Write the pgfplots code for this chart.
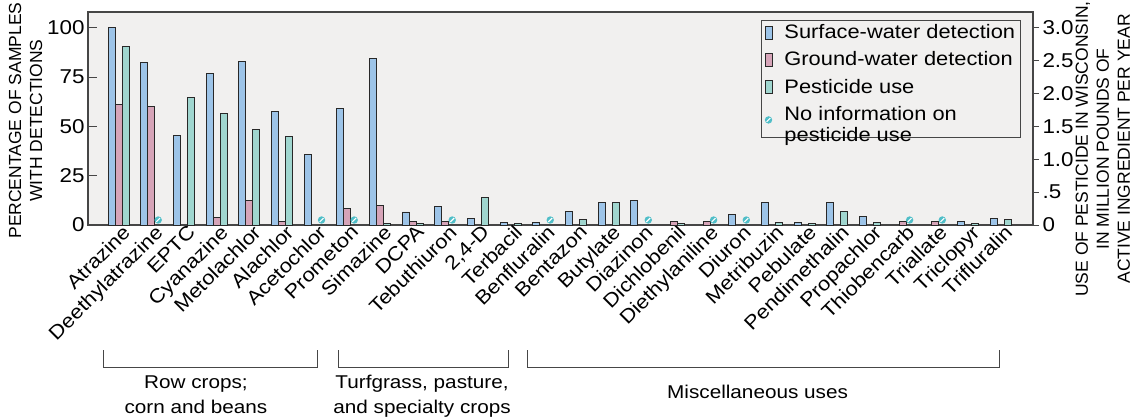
\documentclass[border=0pt]{standalone}
\usepackage{fontspec}
\setmainfont{Liberation Sans}[FakeStretch=1.12]
\newfontfamily\rotfont{Liberation Sans}
\usepackage{pgfplots}
\pgfplotsset{compat=1.18}
\definecolor{blueb}{RGB}{157,196,232}
\definecolor{pinkb}{RGB}{214,164,184}
\definecolor{greenb}{RGB}{160,214,207}
\definecolor{noinfoc}{RGB}{80,190,200}
\definecolor{bgc}{RGB}{241,240,239}
\definecolor{framec}{RGB}{70,70,70}
\definecolor{barc}{RGB}{40,40,40}
\newcommand\fs{\fontsize{18.5}{21}\selectfont}
\newcommand\tfs{\fontsize{20}{22}\selectfont}
\newcommand\cfs{\fontsize{19.5}{22}\selectfont}
\newcommand\lfs{\fontsize{19.5}{21}\selectfont}
\pgfdeclareplotmark{noinfo}{%
  \pgfsetfillcolor{noinfoc}%
  \pgfpathcircle{\pgfpointorigin}{3.7pt}\pgfusepath{fill}%
  \pgfsetstrokecolor{white}\pgfsetlinewidth{1.1pt}%
  \pgfpathmoveto{\pgfpoint{-1.9pt}{-1.9pt}}\pgfpathlineto{\pgfpoint{1.9pt}{1.9pt}}\pgfusepath{stroke}%
}
\pgfplotsset{barleg/.style={legend image code/.code={\draw[##1] (0pt,-6.5pt) rectangle (7pt,6.5pt);}}}
\begin{document}
\begin{tikzpicture}
\begin{axis}[name=ax, at={(0pt,0pt)}, anchor=south west, scale only axis,
  width=945pt, height=213pt,
  xmin=-0.934, xmax=27.99, ymin=0, ymax=108,
  axis background/.style={fill=bgc},
  axis line style={draw=framec, line width=1.3pt},
  ytick={0,25,50,75,100}, ytick pos=left, tick align=inside, major tick length=9pt,
  tick style={draw=framec, line width=1pt},
  xtick={0,...,27}, xtick pos=bottom, xtick style={draw=none},
  xticklabels={Atrazine,Deethylatrazine,EPTC,Cyanazine,Metolachlor,Alachlor,Acetochlor,Prometon,Simazine,DCPA,Tebuthiuron,{2,4-D},Terbacil,Benfluralin,Bentazon,Butylate,Diazinon,Dichlobenil,Diethylaniline,Diuron,Metribuzin,Pebulate,Pendimethalin,Propachlor,Thiobencarb,Triallate,Triclopyr,Trifluralin},
  xticklabel style={rotate=45, anchor=north east, inner sep=0pt, yshift=-1pt, xshift=3pt, font=\cfs},
  yticklabel style={font=\tfs},
  /pgf/number format/assume math mode=true,
  ylabel={PERCENTAGE OF SAMPLES\\WITH DETECTIONS},
  ylabel style={at={(axis description cs:-0.066,0.49)}, anchor=center, align=center, font=\rotfont\fontsize{17.5}{21}\selectfont},
  clip=false]
\addplot[ybar, bar width=7pt, bar shift=-7pt, fill=blueb, draw=barc, line width=0.9pt] coordinates {
(0,100) (1,82.4) (2,45.2) (3,76.8) (4,83) (5,57.7) (6,35.9) (7,59.2) (8,84.4) (9,6.6)
(10,9.3) (11,3.4) (12,1.2) (13,1.2) (14,7) (15,11.5) (16,12.2) (19,5.2) (20,11.5)
(21,1.2) (22,11.5) (23,4.4) (26,2) (27,3.2)};
\addplot[ybar, bar width=7pt, bar shift=0pt, fill=pinkb, draw=barc, line width=0.9pt] coordinates {
(0,61) (1,60) (3,3.7) (4,12.5) (5,1.9) (7,8.3) (8,10) (9,2) (10,2) (17,1.9) (18,2) (24,2) (25,2)};
\draw[framec, line width=1pt] (axis cs:-0.47,-63.5) -- (axis cs:-0.47,-72) -- (axis cs:6.1,-72) -- (axis cs:6.1,-63.5);
\draw[framec, line width=1pt] (axis cs:6.72,-63.5) -- (axis cs:6.72,-72) -- (axis cs:11.93,-72) -- (axis cs:11.93,-63.5);
\draw[framec, line width=1pt] (axis cs:12.53,-63.5) -- (axis cs:12.53,-72) -- (axis cs:26.95,-72) -- (axis cs:26.95,-63.5);
\node[anchor=base, font=\fs] at (axis cs:2.37,-83) {Row crops;};
\node[anchor=base, font=\fs] at (axis cs:2.37,-95.7) {corn and beans};
\node[anchor=base, font=\fs] at (axis cs:9.29,-83) {Turfgrass, pasture,};
\node[anchor=base, font=\fs] at (axis cs:9.29,-95.7) {and specialty crops};
\node[anchor=base, font=\fs] at (axis cs:19.56,-88) {Miscellaneous uses};
\end{axis}
\begin{axis}[at={(0pt,0pt)}, anchor=south west, scale only axis,
  width=945pt, height=213pt,
  xmin=-0.934, xmax=27.99, ymin=0, ymax=3.24,
  axis x line=none, axis y line*=right, xtick=\empty,
  axis line style={draw=framec, line width=1.3pt},
  ytick={0,0.5,1,1.5,2,2.5,3}, yticklabels={0,.5,1.0,1.5,2.0,2.5,3.0},
  tick align=outside, major tick length=6pt,
  tick style={draw=framec, line width=1pt},
  yticklabel style={font=\tfs},
  ylabel={USE OF PESTICIDE IN WISCONSIN,\\IN MILLION POUNDS OF\\ACTIVE INGREDIENT PER YEAR},
  ylabel style={at={(axis description cs:1.074,0.357)}, anchor=center, align=center, font=\rotfont\fontsize{17.5}{21}\selectfont},
  legend style={at={(0.987,0.962)}, anchor=north east, draw=framec, line width=1.2pt, fill=bgc, font=\lfs, row sep=7.5pt, inner xsep=3pt, inner ysep=2pt,
    /tikz/every odd column/.append style={column sep=10pt}},
  legend cell align=left,
  clip=false]
\addlegendimage{barleg, fill=blueb, draw=barc, line width=0.9pt}
\addlegendentry{Surface-water detection}
\addlegendimage{barleg, fill=pinkb, draw=barc, line width=0.9pt}
\addlegendentry{Ground-water detection}
\addplot[ybar, barleg, bar width=7pt, bar shift=7pt, fill=greenb, draw=barc, line width=0.9pt] coordinates {
(0,2.71) (2,1.94) (3,1.70) (4,1.45) (5,1.34) (8,0.025) (9,0.025) (11,0.42) (12,0.02) (14,0.087)
(15,0.345) (17,0.025) (20,0.045) (21,0.025) (22,0.21) (23,0.045) (26,0.025) (27,0.087)};
\addlegendentry{Pesticide use}
\addplot[only marks, mark=noinfo, legend image code/.code={\pgftransformshift{\pgfpoint{3.5pt}{0pt}}\pgfuseplotmark{noinfo}}] coordinates {
(1.214,0.076) (6.214,0.076) (7.214,0.076) (10.214,0.076) (13.214,0.076) (16.214,0.076) (18.214,0.076) (19.214,0.076) (24.214,0.076) (25.214,0.076)};
\addlegendentry{\begin{tabular}{@{}l@{}}No information on\\pesticide use\end{tabular}}
\end{axis}
\pgfresetboundingbox
\useasboundingbox ([xshift=-88pt,yshift=-191pt]ax.south west) rectangle ([xshift=1045pt,yshift=225pt]ax.south west);
\end{tikzpicture}
\end{document}
